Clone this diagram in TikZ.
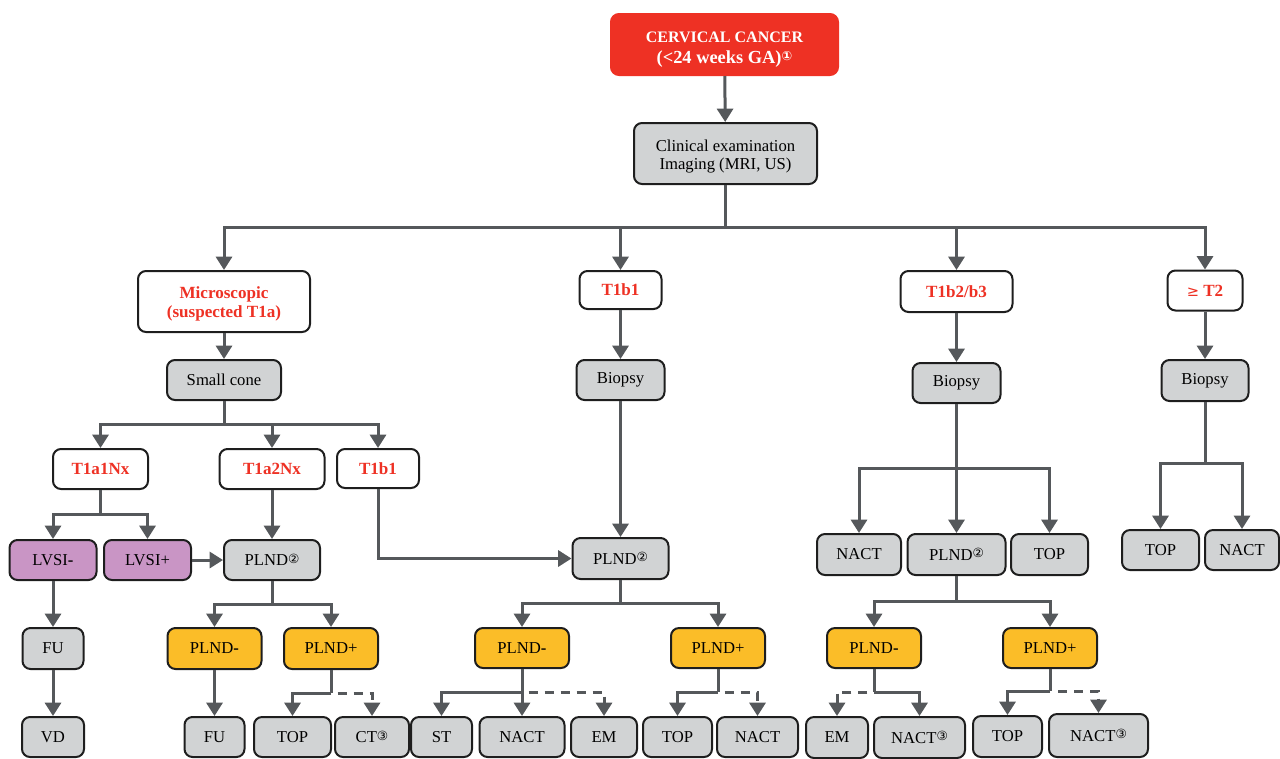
\documentclass[tikz,border=0pt]{standalone}
\usepackage{fontspec}
\setmainfont{Liberation Serif}
\newfontfamily\djv{DejaVu Sans}
\usetikzlibrary{arrows.meta,calc}
\definecolor{cred}{HTML}{EE3124}
\definecolor{cgray}{HTML}{D1D3D4}
\definecolor{cline}{HTML}{55585B}
\definecolor{cpurple}{HTML}{C995C5}
\definecolor{corange}{HTML}{FBBD28}
\definecolor{cborder}{HTML}{1E1E1E}
\newcommand{\circnum}[1]{{\djv\fontsize{9.5}{9.5}\selectfont\raisebox{1.8pt}{#1}}}
% taller first line, so two-line labels sit a little lower in their boxes
\newcommand{\tallstrut}[1]{\rule{0pt}{#1}}
\tikzset{
  box/.style={draw=cborder, line width=1.5pt, rounded corners=6pt, inner sep=0pt,
    align=center, font=\fontsize{12.5}{13.4}\selectfont},
  gbox/.style={box, fill=cgray},
  pbox/.style={box, fill=cpurple},
  obox/.style={box, fill=corange},
  wbox/.style={box, fill=white, text=cred, font=\fontsize{12.8}{14.5}\selectfont\bfseries},
  sz/.style 2 args={minimum width=#1*0.75pt, minimum height=#2*0.75pt},
  conn/.style={draw=cline, line width=2.25pt},
  arr/.style={conn, -{Triangle[width=12pt,length=10pt]}},
  dsh/.style={arr, dash pattern=on 7pt off 5pt}
}
\begin{document}
\begin{tikzpicture}[x=0.75pt,y=-0.75pt]
\useasboundingbox (0,0) rectangle (1280,758);

% ---- boxes ----
\node[box, fill=cred, draw=cred, text=white, sz={227}{61},
  font=\fontsize{12}{15.8}\selectfont\bfseries] (top) at (724.5,44.5)
  {\tallstrut{15pt}CERVICAL CANCER\\{\fontsize{13.8}{15.8}\selectfont(<24 weeks GA)}{\color{white}\circnum{①}}};
\node[gbox, sz={183}{61}] (clin) at (725.5,153.5) {\tallstrut{13.2pt}Clinical examination\\Imaging (MRI, US)};

\node[wbox, sz={172}{61}] (micro) at (224,301.5) {\tallstrut{12.7pt}Microscopic\\(suspected T1a)};
\node[wbox, sz={82}{38}] (t1b1m) at (620.5,290) {T1b1};
\node[wbox, sz={112}{41}] (t1b2) at (956.5,291.5) {T1b2/b3};
\node[wbox, sz={75}{40}] (t2) at (1205,290.5) {{\djv\mdseries\fontsize{11}{11}\selectfont ≥} T2};

\node[gbox, sz={114}{40}] (cone) at (224,380) {Small cone};
\node[gbox, sz={88}{40}] (biopm) at (620.5,380) {Biopsy};
\node[gbox, sz={88}{40}] (biopr) at (956.5,383) {Biopsy};
\node[gbox, sz={87}{41}] (biopt) at (1205,380.5) {Biopsy};

\node[wbox, sz={95}{40}] (t1a1) at (100.5,469) {T1a1Nx};
\node[wbox, sz={105}{40}] (t1a2) at (272,469) {T1a2Nx};
\node[wbox, sz={82}{39}] (t1b1l) at (378,468.5) {T1b1};

\node[pbox, sz={87}{40}] (lvsim) at (53,560) {LVSI\textbf{-}};
\node[pbox, sz={87}{40}] (lvsip) at (147.5,560) {LVSI+};
\node[gbox, sz={96}{40}] (plndl) at (272,560) {PLND\circnum{②}};
\node[gbox, sz={96}{41}] (plndm) at (620.5,558.5) {PLND\circnum{②}};
\node[gbox, sz={84}{41}] (nactr) at (859,554.5) {NACT};
\node[gbox, sz={98}{41}] (plndr) at (956.5,554.5) {PLND\circnum{②}};
\node[gbox, sz={77}{41}] (topr) at (1049.5,554.5) {TOP};
\node[gbox, sz={77}{40}] (topt) at (1160.5,550) {TOP};
\node[gbox, sz={74}{40}] (nactt) at (1242,550) {NACT};

\node[gbox, sz={61}{41}] (fu1) at (53,648.5) {FU};
\node[obox, sz={94}{41}] (plndlN) at (214.5,648.5) {PLND\textbf{-}};
\node[obox, sz={94}{41}] (plndlP) at (331,648.5) {PLND+};
\node[obox, sz={94}{40}] (plndmN) at (522,648) {PLND\textbf{-}};
\node[obox, sz={94}{40}] (plndmP) at (718,648) {PLND+};
\node[obox, sz={94}{40}] (plndrN) at (874,648) {PLND\textbf{-}};
\node[obox, sz={94}{40}] (plndrP) at (1050,648) {PLND+};

\node[gbox, sz={62}{40}] (vd) at (53,737) {VD};
\node[gbox, sz={60}{40}] (fu2) at (214.5,737) {FU};
\node[gbox, sz={77}{40}] (top1) at (292.5,737) {TOP};
\node[gbox, sz={74}{40}] (ct) at (372,737) {CT\circnum{③}};
\node[gbox, sz={61}{40}] (st) at (441.5,737) {ST};
\node[gbox, sz={85}{40}] (nact1) at (522,737) {NACT};
\node[gbox, sz={66}{40}] (em1) at (604,737) {EM};
\node[gbox, sz={69}{40}] (top2) at (677.5,737) {TOP};
\node[gbox, sz={81}{40}] (nact2) at (757.5,737) {NACT};
\node[gbox, sz={62}{41}] (em2) at (837,737.5) {EM};
\node[gbox, sz={91}{41}] (nact3) at (919.5,737.5) {NACT\circnum{③}};
\node[gbox, sz={69}{41}] (top3) at (1007.5,736.5) {TOP};
\node[gbox, sz={99}{43}] (nact4) at (1098.5,735.5) {NACT\circnum{③}};

% ---- junction points ----
\coordinate (j1) at (725.5,227);
\coordinate (j2) at (224,424);
\coordinate (j3) at (100.5,514);
\coordinate (j4) at (272,604);
\coordinate (j5) at (331,693);
\coordinate (j6) at (620.5,603);
\coordinate (j7) at (522,692);
\coordinate (j8) at (718,692);
\coordinate (j9) at (956.5,468);
\coordinate (j10) at (1205,463);
\coordinate (j11) at (956.5,601);
\coordinate (j12) at (874,692);
\coordinate (j13) at (1050,691);

% ---- connectors ----
\draw[arr] (top) -- (clin);
\draw[conn] (clin.south) -- (j1);
\draw[arr] (j1) -| (micro.north);
\draw[arr] (j1) -| (t1b1m.north);
\draw[arr] (j1) -| (t1b2.north);
\draw[arr] (j1) -| (t2.north);

\draw[arr] (micro) -- (cone);
\draw[arr] (t1b1m) -- (biopm);
\draw[arr] (t1b2) -- (biopr);
\draw[arr] (t2) -- (biopt);

\draw[conn] (cone.south) -- (j2);
\draw[arr] (j2) -| (t1a1.north);
\draw[arr] (j2) -| (t1a2.north);
\draw[arr] (j2) -| (t1b1l.north);

\draw[conn] (t1a1.south) -- (j3);
\draw[arr] (j3) -| (lvsim.north);
\draw[arr] (j3) -| (lvsip.north);
\draw[arr] (t1a2) -- (plndl);
\draw[arr] (lvsip) -- (plndl);
\draw[arr] (t1b1l.south) |- (plndm.west);
\draw[arr] (biopm) -- (plndm);

\draw[arr] (lvsim) -- (fu1);
\draw[arr] (fu1) -- (vd);

\draw[conn] (plndl.south) -- (j4);
\draw[arr] (j4) -| (plndlN.north);
\draw[arr] (j4) -| (plndlP.north);
\draw[arr] (plndlN) -- (fu2);
\draw[conn] (plndlP.south) -- (j5);
\draw[arr] (j5) -| (top1.north);
\draw[dsh] ([xshift=5pt]j5) -| (ct.north);

\draw[conn] (plndm.south) -- (j6);
\draw[arr] (j6) -| (plndmN.north);
\draw[arr] (j6) -| (plndmP.north);
\draw[arr] (plndmN) -- (nact1);
\draw[arr] (j7) -| (st.north);
\draw[dsh] ([xshift=5pt]j7) -| (em1.north);
\draw[conn] (plndmP.south) -- (j8);
\draw[arr] (j8) -| (top2.north);
\draw[dsh] ([xshift=5pt]j8) -| (nact2.north);

\draw[conn] (biopr.south) -- (j9);
\draw[arr] (j9) -| (nactr.north);
\draw[arr] (j9) -- (plndr.north);
\draw[arr] (j9) -| (topr.north);

\draw[conn] (biopt.south) -- (j10);
\draw[arr] (j10) -| (topt.north);
\draw[arr] (j10) -| (nactt.north);

\draw[conn] (plndr.south) -- (j11);
\draw[arr] (j11) -| (plndrN.north);
\draw[arr] (j11) -| (plndrP.north);
\draw[conn] (plndrN.south) -- (j12);
\draw[arr] (j12) -| (nact3.north);
\draw[dsh] ([xshift=-5pt]j12) -| (em2.north);
\draw[conn] (plndrP.south) -- (j13);
\draw[arr] (j13) -| (top3.north);
\draw[dsh] ([xshift=6pt]j13) -| (nact4.north);
\end{tikzpicture}
\end{document}
